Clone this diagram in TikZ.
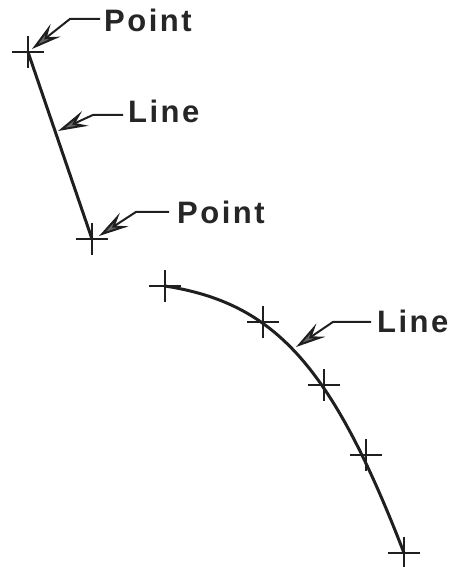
\documentclass[tikz,border=0pt]{standalone}
\usepackage{fontspec}
\setmainfont{Liberation Sans}
\usetikzlibrary{arrows.meta}
\begin{document}
\begin{tikzpicture}[x=1pt,y=-1pt,
  ink/.style={draw=black!88},
  crossmark/.style={inner sep=0pt, minimum width=32pt, minimum height=32pt,
    path picture={\draw[black!88,line width=1.4pt]
      (path picture bounding box.north) -- (path picture bounding box.south)
      (path picture bounding box.west) -- (path picture bounding box.east);}},
  mainline/.style={ink, line width=3pt, line cap=round},
  leader/.style={ink, line width=2pt, -{Stealth[length=30pt,width=16pt,inset=11pt,fill=black!60]}},
  lbl/.style={inner sep=0pt, anchor=base west, text=black!85,
    font=\fontsize{31}{34}\selectfont\bfseries\addfontfeatures{LetterSpace=8}}]
\useasboundingbox (0,0) rectangle (455,567);
% straight line with its two points
\node[crossmark] (pa) at (28,52) {};
\node[crossmark] (pb) at (92,239) {};
\draw[mainline] (pa.center) -- (pb.center);
% curved line with its points
\node[crossmark] (c1) at (165,286) {};
\node[crossmark] (c2) at (263,322) {};
\node[crossmark] (c3) at (324,385) {};
\node[crossmark] (c4) at (366,455) {};
\node[crossmark] (c5) at (404,553) {};
\draw[mainline] (c1.center) .. controls (274,303) and (331,364) .. (c5.center);
% labels
\node[lbl] (l1) at (104,32) {Point};
\node[lbl] (l2) at (128,123) {Line};
\node[lbl] (l3) at (177,223) {Point};
\node[lbl] (l4) at (377,332) {Line};
% arrow tips
\coordinate (t1) at (32,49);
\coordinate (t2) at (58,131);
\coordinate (t3) at (99,236);
\coordinate (t4) at (296,347);
% leaders
\draw[leader] ([xshift=-4pt,yshift=2pt]l1.west) -- ++(-30,0) -- (t1);
\draw[leader] ([xshift=-5pt,yshift=-3pt]l2.west) -- ++(-30,0) -- (t2);
\draw[leader] ([xshift=-8pt,yshift=0pt]l3.west) -- ++(-33,0) -- (t3);
\draw[leader] ([xshift=-6pt,yshift=-1pt]l4.west) -- ++(-38,0) -- (t4);
\end{tikzpicture}
\end{document}
